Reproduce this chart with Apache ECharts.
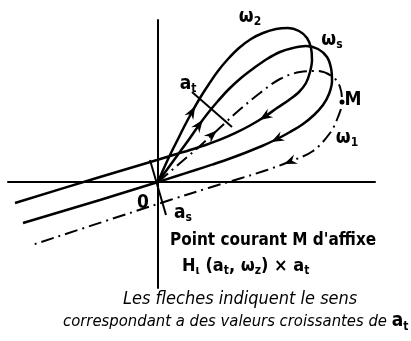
<!DOCTYPE html>
<html>
<head>
<meta charset="utf-8">
<script src="https://cdn.jsdelivr.net/npm/echarts@6/dist/echarts.min.js"></script>
<style>
  html, body { margin: 0; padding: 0; background: #fff; }
  #chart { width: 411px; height: 341px; }
</style>
</head>
<body>
<div id="chart"></div>
<script>
// repere centre sur O, 1 unite = 1 px de la figure
// boucle w2 (exterieure), depart en O, retour par la droite au-dessus de O
const loopW2 = [
  [0, 0], [6, 14], [12, 27], [19, 41], [26, 55], [34, 70], [42, 84], [51, 98],
  [60, 111], [70, 123], [81, 134], [93, 143], [105, 149], [118, 153], [130, 154],
  [141, 151], [149, 144], [153, 134], [154, 122], [152, 110], [148, 99], [141, 90],
  [131, 82], [119, 74], [107, 65.5], [92, 56.5], [77, 48.8], [62, 42.3], [47, 36.8],
  [32, 32], [17, 27.5], [-1, 22], [-58, 5], [-143, -21]
]
// boucle ws, passe par O
const loopWs = [
  [0, 0], [8, 11], [16, 22], [24, 33], [32, 44], [41, 57], [50, 69], [60, 81],
  [71, 93], [83, 104], [96, 114], [109, 123], [122, 130], [135, 134], [148, 136],
  [160, 133], [169, 125], [173, 114], [174, 101], [171, 88], [165, 77], [156, 67],
  [145, 58], [132, 50], [119, 43], [104, 36], [88, 29.5], [72, 23.5], [54, 17.4],
  [36, 11.5], [18, 5.7], [0, 0], [-58, -18], [-135, -41]
]
// boucle w1 (trait mixte), passe sous O
const loopW1 = [
  [0, 0], [14, 12], [28, 24], [42, 36], [54, 47], [66, 58], [79, 70], [102, 89],
  [122, 103], [142, 110], [159, 111], [175, 105], [182, 95], [184, 80], [180, 65],
  [172, 49], [155, 31], [132, 20.5], [109, 12], [82, 3.5], [52, -5.5], [12, -18],
  [-25, -30], [-126, -63]
]
// indices des fleches sur chaque courbe
const arrowsW2 = [5, 24]
const arrowsWs = [5, 24]
const arrowsW1 = [4, 17]

const segAt = [[34, 90], [74, 55]]
const segAs = [[-8, 22], [8, -33]]
const pointM = [184, 80]

// etiquettes : position, texte
const curveLabels = [
  { pos: [92, 165], text: '{w|ω}{s|2}' },
  { pos: [174, 142], text: '{w|ω}{s|s}' },
  { pos: [195, 82], text: '{w|M}' },
  { pos: [189, 44], text: '{w|ω}{s|1}' },
  { pos: [30, 98], text: '{w|a}{s|t}' },
  { pos: [-15, -21], text: '{w|0}' },
  { pos: [25, -31], text: '{w|a}{s|s}' },
]

const FONT = "'DejaVu Sans Condensed', 'Liberation Sans Narrow', 'DejaVu Sans', sans-serif"

const richStyle = {
  w: { fontSize: 19, lineHeight: 22, fontFamily: FONT, color: '#000', fontWeight: 'bold' },
  m: { fontSize: 18, lineHeight: 22, fontFamily: FONT, color: '#000', fontWeight: 'bold' },
  p: { fontSize: 17, lineHeight: 22, fontFamily: FONT, color: '#000', fontWeight: 'bold' },
  s: { fontSize: 12, lineHeight: 12, fontFamily: FONT, color: '#000', fontWeight: 'bold', verticalAlign: 'bottom' },
  i1: { fontSize: 18, lineHeight: 22, fontFamily: FONT, color: '#000', fontStyle: 'italic' },
  i2: { fontSize: 16.5, lineHeight: 22, fontFamily: FONT, color: '#000', fontStyle: 'italic' },
}

// fleches : orientation tiree de la courbe elle-meme
function arrowPoints (curve, idx) {
  return idx.map(i => {
    const a = curve[i - 1]
    const b = curve[i + 1]
    const ang = Math.atan2(b[1] - a[1], b[0] - a[0]) * 180 / Math.PI
    return { value: curve[i], symbolRotate: ang - 90 }
  })
}

const chart = echarts.init(document.getElementById('chart'))

const axisCommon = {
  type: 'value',
  axisLine: { show: true, onZero: true, lineStyle: { color: '#000', width: 2 } },
  axisTick: { show: false },
  axisLabel: { show: false },
  splitLine: { show: false },
}

const solid = { color: '#000', width: 2.5 }

const option = {
  animation: false,
  grid: { left: 8, right: 36, top: 20, bottom: 53 },
  xAxis: Object.assign({ min: -150, max: 217 }, axisCommon),
  yAxis: Object.assign({ min: -106, max: 162 }, axisCommon),
  series: [
    { type: 'line', data: loopW2, smooth: 0.35, symbol: 'none', lineStyle: solid },
    { type: 'line', data: loopWs, smooth: 0.35, symbol: 'none', lineStyle: solid },
    {
      type: 'line', data: loopW1, smooth: 0.35, symbol: 'none',
      lineStyle: { color: '#000', width: 2, type: [13, 5, 2, 5] },
    },
    { type: 'line', data: segAt, symbol: 'none', lineStyle: { color: '#000', width: 2 } },
    { type: 'line', data: segAs, symbol: 'none', lineStyle: { color: '#000', width: 2 } },
    {
      type: 'scatter',
      data: [].concat(arrowPoints(loopW2, arrowsW2), arrowPoints(loopWs, arrowsWs), arrowPoints(loopW1, arrowsW1)),
      symbol: 'path://M0,12 L5,0 L10,12 L5,8 Z',
      symbolSize: [10, 13],
      itemStyle: { color: '#000', opacity: 1 },
    },
    {
      type: 'scatter', data: [pointM], symbolSize: 5, itemStyle: { color: '#000', opacity: 1 },
    },
    {
      type: 'scatter',
      clip: false,
      data: curveLabels.map(l => ({ value: l.pos, text: l.text })),
      symbolSize: 0,
      itemStyle: { opacity: 1 },
      label: {
        show: true,
        position: 'inside',
        color: '#000',
        formatter: p => p.data.text,
        rich: richStyle,
      },
    },
  ],
  graphic: [
    {
      type: 'text', left: 170, top: 232,
      style: { text: "{p|Point courant M d'affixe}", rich: richStyle },
    },
    {
      type: 'text', left: 182, top: 257,
      style: { text: '{m|H}{s|ι}{m| (a}{s|t}{m|, ω}{s|z}{m|) × a}{s|t}', rich: richStyle },
    },
    {
      type: 'text', left: 123, top: 290,
      style: { text: '{i1|Les fleches indiquent le sens}', rich: richStyle },
    },
    {
      type: 'text', left: 63, top: 312,
      style: { text: '{i2|correspondant a des valeurs croissantes de }{w|a}{s|t}', rich: richStyle },
    },
  ],
}

chart.setOption(option)
</script>
</body>
</html>
